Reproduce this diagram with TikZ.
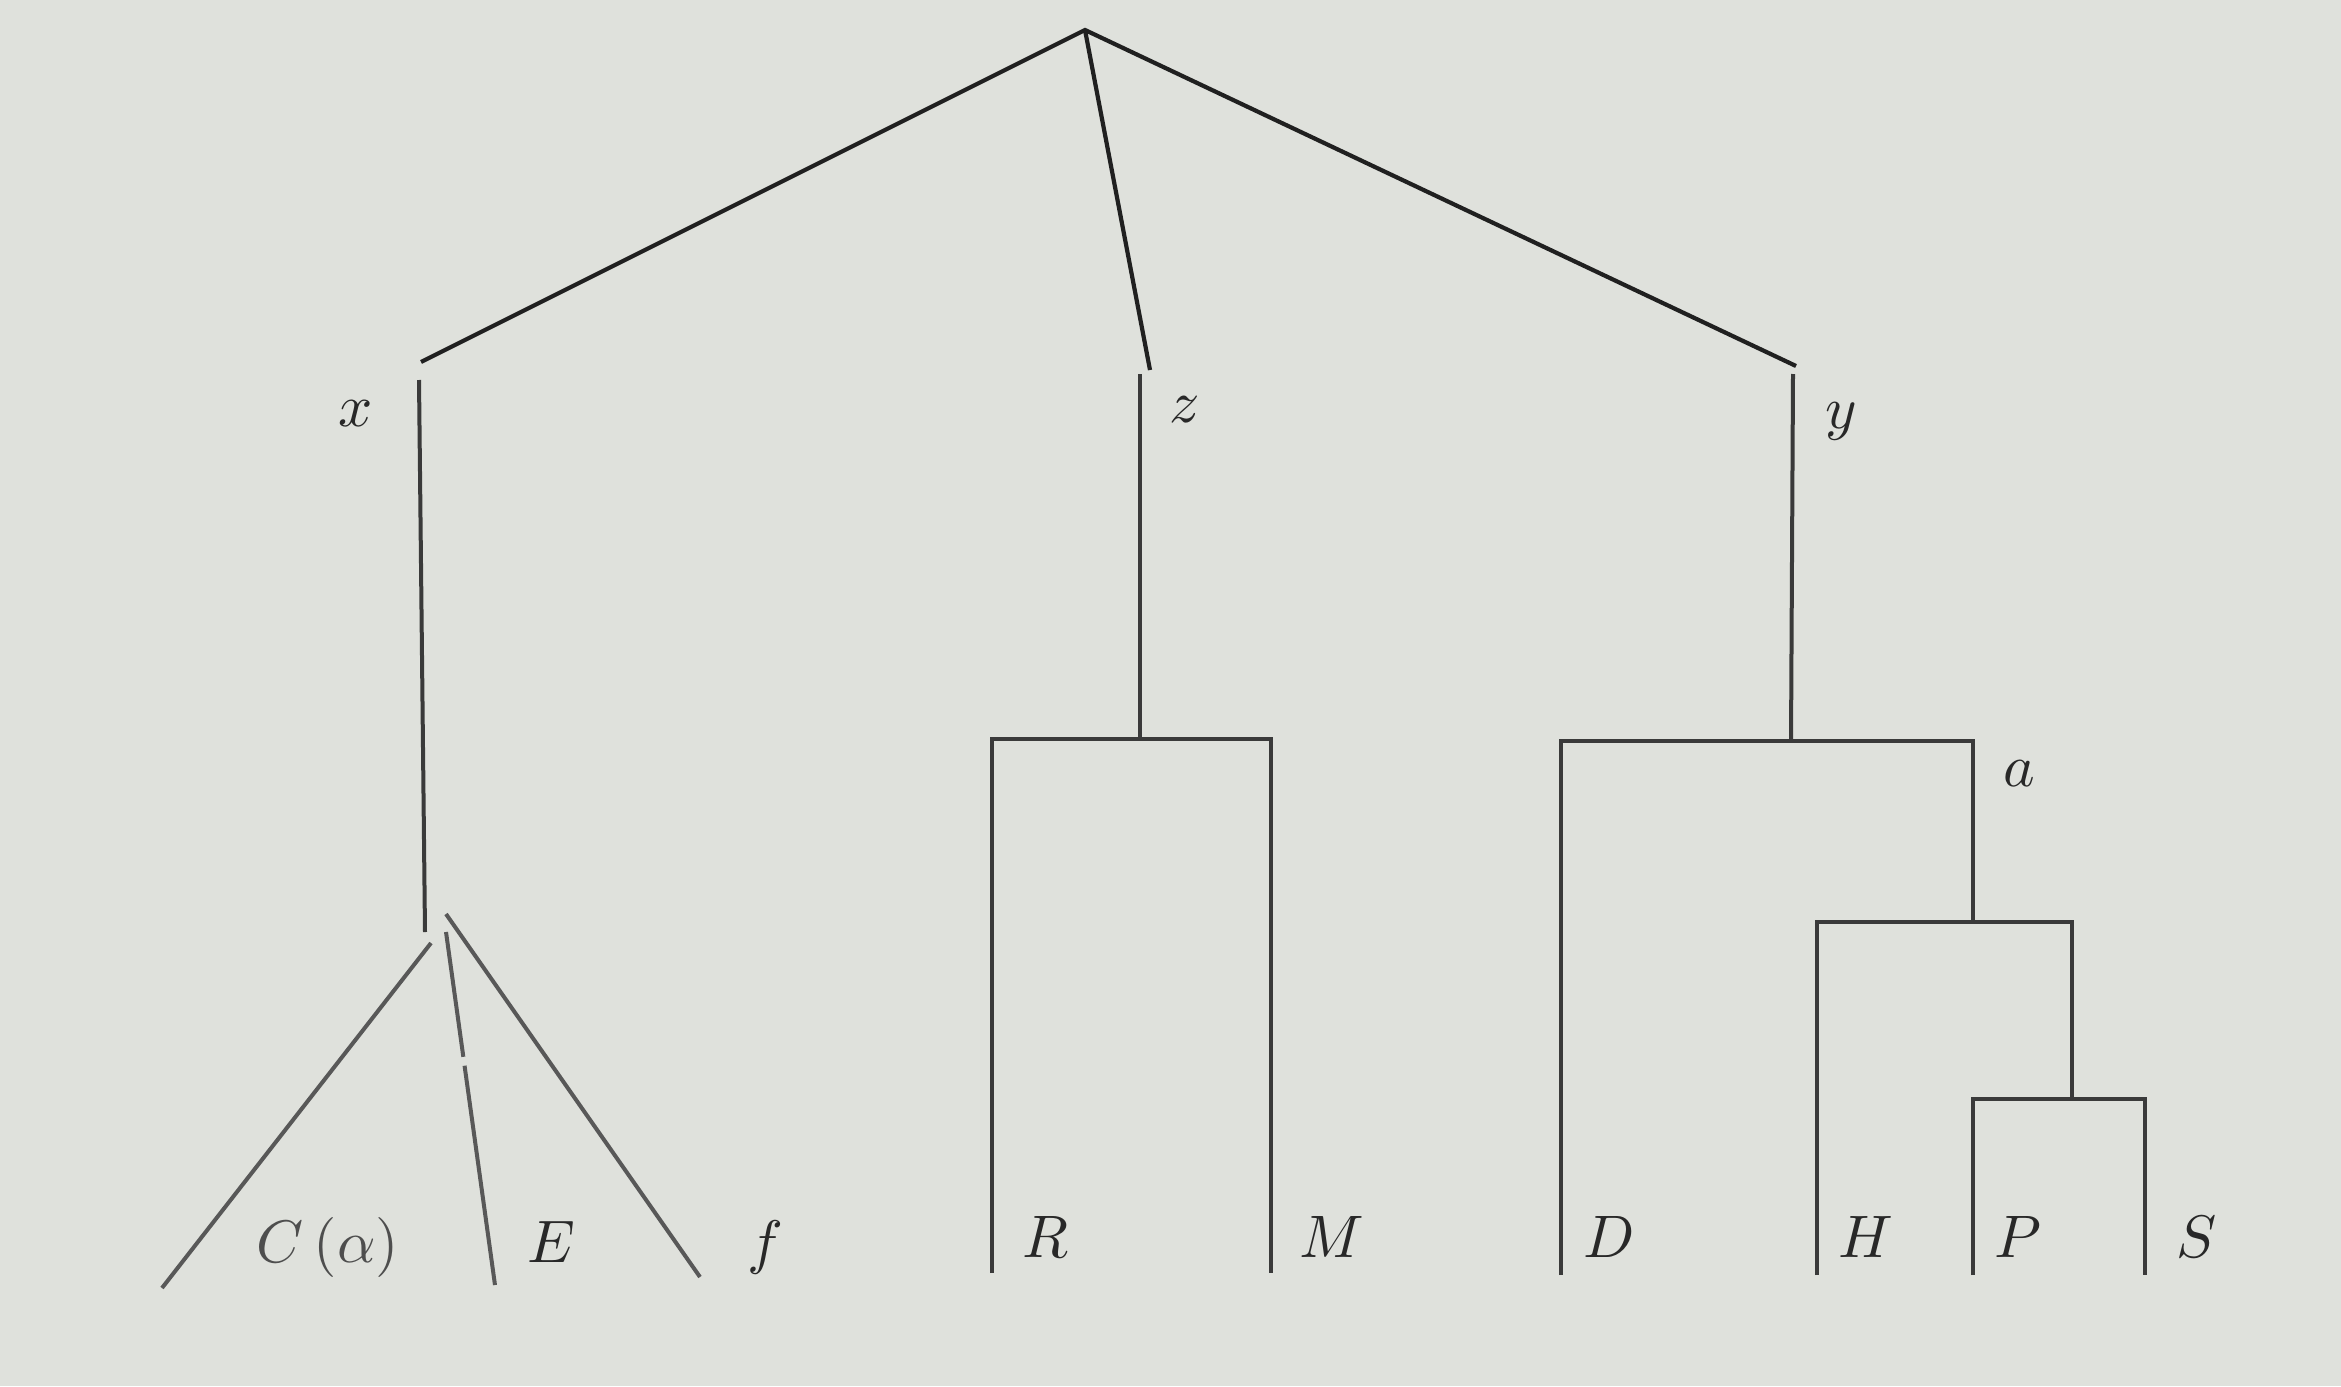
\documentclass[tikz,border=0pt]{standalone}
\usepackage{graphicx}
\definecolor{paper}{RGB}{223,225,220}
\definecolor{ink}{RGB}{32,32,32}
\definecolor{inkgrey}{RGB}{58,58,58}
\definecolor{fanink}{RGB}{88,88,88}
\definecolor{labelink}{RGB}{40,40,40}
\definecolor{greylabel}{RGB}{78,78,78}
\newcommand{\biglbl}[1]{\scalebox{6}{$#1$}}
\tikzset{
  branch/.style={draw=ink, line width=4.2pt, line cap=butt, line join=miter},
  leaf/.style={draw=inkgrey, line width=4pt, line cap=butt, line join=miter},
  fan/.style={draw=fanink, line width=4pt, line cap=butt},
  lab/.style={text=labelink, inner sep=0pt, anchor=base},
  glab/.style={lab, text=greylabel}
}
\begin{document}
\begin{tikzpicture}[x=1pt,y=-1pt]
\useasboundingbox (0,0) rectangle (2341,1386);
\fill[paper] (0,0) rectangle (2341,1386);

% top fork
\coordinate (apex) at (1085,30);
\coordinate (xend) at (421,362);
\coordinate (zend) at (1150,370);
\coordinate (yend) at (1796,366);
\draw[branch] (xend) -- (apex) -- (yend);
\draw[branch] (apex) -- (zend);

% x stem and fan
\coordinate (xtop) at (419,380);
\coordinate (xbot) at (425,932);
\draw[leaf] (xtop) -- (xbot);
\coordinate (cfan) at (431,943);
\coordinate (cleaf) at (162,1288);
\coordinate (efan) at (446,932);
\coordinate (eleaf) at (495,1285);
\coordinate (ffan) at (446,914);
\coordinate (fleaf) at (700,1277);
\draw[fan] (cfan) -- (cleaf);
\draw[fan, dash pattern=on 126pt off 9pt on 400pt] (efan) -- (eleaf);
\draw[fan] (ffan) -- (fleaf);

% z stem and R-M bracket
\coordinate (ztop) at (1140,374);
\coordinate (zbot) at (1140,739);
\draw[leaf] (ztop) -- (zbot);
\coordinate (rleaf) at (992,1273);
\coordinate (rtop) at (992,739);
\coordinate (mtop) at (1271,739);
\coordinate (mleaf) at (1271,1273);
\draw[leaf] (rleaf) -- (rtop) -- (mtop) -- (mleaf);

% y stem and D-a bracket
\coordinate (ytop) at (1793,374);
\coordinate (ybot) at (1791,741);
\draw[leaf] (ytop) -- (ybot);
\coordinate (dleaf) at (1561,1275);
\coordinate (dtop) at (1561,741);
\coordinate (atop) at (1973,741);
\coordinate (abot) at (1973,922);
\draw[leaf] (dleaf) -- (dtop) -- (atop) -- (abot);

% H bracket
\coordinate (hleaf) at (1817,1275);
\coordinate (htop) at (1817,922);
\coordinate (hrtop) at (2072,922);
\coordinate (hrbot) at (2072,1099);
\draw[leaf] (hleaf) -- (htop) -- (hrtop) -- (hrbot);

% P-S bracket
\coordinate (pleaf) at (1973,1275);
\coordinate (ptop) at (1973,1099);
\coordinate (stop) at (2145,1099);
\coordinate (sleaf) at (2145,1275);
\draw[leaf] (pleaf) -- (ptop) -- (stop) -- (sleaf);

% labels
\node[lab] (lx) at (356,426) {\biglbl{x}};
\node[lab] (lz) at (1185,422) {\biglbl{z}};
\node[lab] (ly) at (1841,428) {\biglbl{y}};
\node[lab] (la) at (2019,786) {\biglbl{a}};
\node[glab] (lc) at (328,1262) {\biglbl{C\,(\alpha)}};
\node[lab] (le) at (551,1262) {\biglbl{E}};
\node[lab] (lf) at (765,1262) {\biglbl{f}};
\node[lab] (lr) at (1045,1257) {\biglbl{R}};
\node[lab] (lm) at (1332,1257) {\biglbl{M}};
\node[lab] (ld) at (1609,1257) {\biglbl{D}};
\node[lab] (lh) at (1866,1257) {\biglbl{H}};
\node[lab] (lp) at (2018,1257) {\biglbl{P}};
\node[lab] (ls) at (2197,1257) {\biglbl{S}};
\end{tikzpicture}
\end{document}
